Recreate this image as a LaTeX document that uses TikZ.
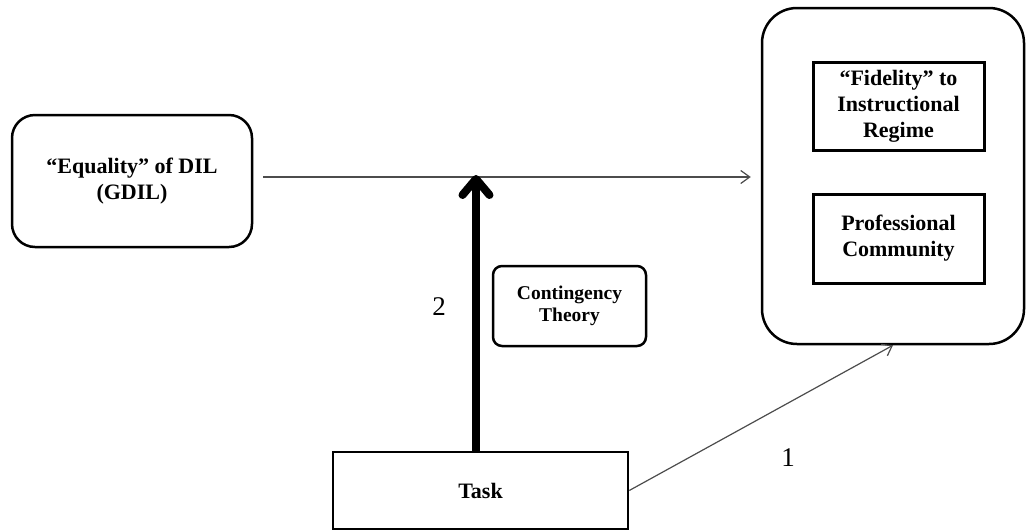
\documentclass[tikz,border=0pt]{standalone}
\usepackage{fontspec}
\setmainfont{Liberation Serif}
\usetikzlibrary{arrows.meta}
\tikzset{
  x=1pt, y=-1pt,
  label text/.style={font=\fontsize{22}{26}\selectfont\bfseries, align=center, inner sep=0pt},
  roundbox/.style={label text, draw, line width=2.5pt},
  plainbox/.style={label text, draw, line width=3pt},
  thinlink/.style={draw=black!70, line width=1.2pt,
    -{Straight Barb[length=9pt,width=13pt]}},
  thicklink/.style={draw=black, line width=8pt,
    -{Straight Barb[length=16pt,width=27pt,line cap=round,line join=round]}},
  numlabel/.style={font=\fontsize{27}{30}\selectfont, inner sep=0pt}
}
\begin{document}
\begin{tikzpicture}
  \useasboundingbox (0,0) rectangle (1027,531);

  % boxes
  \node[roundbox, rounded corners=23pt, minimum width=240pt, minimum height=132pt]
    (gdil) at (132,181) {“Equality” of DIL\\(GDIL)};
  \node[roundbox, rounded corners=35pt, minimum width=262pt, minimum height=336pt]
    (outcome) at (893,176) {};
  \node[plainbox, minimum width=171pt, minimum height=88pt]
    (fid) at (898.5,106) {“Fidelity” to\\Instructional\\Regime};
  \node[plainbox, minimum width=171pt, minimum height=89pt]
    (prof) at (898.5,238.5) {Professional\\Community};
  \node[roundbox, rounded corners=9pt, minimum width=153pt, minimum height=80pt,
        font=\fontsize{19.5}{22}\selectfont\bfseries]
    (cont) at (569.5,306) {Contingency\\Theory};
  \node[roundbox, minimum width=295pt, minimum height=77pt]
    (task) at (480.5,490.5) {Task};

  % connectors
  \coordinate (meet) at (476,177);
  \draw[thinlink, shorten <=10pt, shorten >=10pt] (gdil.east |- meet) -- (outcome.west |- meet);
  \draw[thicklink, line cap=butt] (task.north -| meet) -- ([yshift=2pt]meet);
  \draw[thinlink] (task.east) -- (outcome.south);

  % path numbers
  \node[numlabel] (n2) at (439,307) {2};
  \node[numlabel] (n1) at (788,458) {1};
\end{tikzpicture}
\end{document}
